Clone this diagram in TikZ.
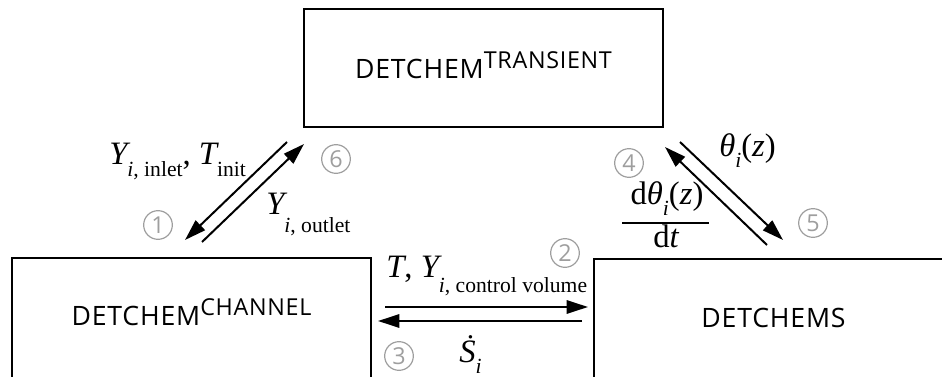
\documentclass[tikz,border=0pt]{standalone}
\usepackage{fontspec}
\setmainfont{Liberation Serif}
\newfontfamily\boxfont[LetterSpace=3]{Open Sans}
\newfontfamily\numfont{Open Sans}
\usetikzlibrary{arrows.meta}
\newcommand\msz{\fontsize{24.5}{28}\selectfont}
\newcommand\ssz{\fontsize{16.2}{20}\selectfont}
\newcommand\dn[2]{\raisebox{-#1}{\ssz #2}}
\newcommand\bsup[1]{{\fontsize{17.5}{20}\selectfont\raisebox{7.5pt}{#1}}}
\begin{document}
\begin{tikzpicture}[x=0.75pt,y=-0.75pt,
  box/.style={draw, line width=1.5pt, inner sep=0pt, minimum width=269.25pt},
  boxtxt/.style={inner sep=0pt, anchor=base, font=\boxfont\fontsize{20}{22}\selectfont},
  lbl/.style={inner sep=0pt, anchor=base west, font=\msz},
  num/.style={circle, draw=black!38, line width=0.9pt, inner sep=0pt, minimum size=21.5pt,
              text=black!38, font=\numfont\fontsize{17.5}{18}\selectfont},
  arr/.style={line width=1.5pt, -{Triangle[length=16pt,width=10pt]}}]
\useasboundingbox (0,0) rectangle (942,377);
\clip (0,0) rectangle (942,377);
% boxes
\node[box, minimum height=88.5pt] (trans) at (483.5,68) {};
\node[box, minimum height=93pt] (chan) at (191.5,320) {};
\node[box, minimum height=93pt] (dets) at (773.5,321) {};
\node[boxtxt] (transtxt) at (483.5,79) {DETCHEM\bsup{TRANSIENT}};
\node[boxtxt] (chantxt) at (191.5,326) {DETCHEM\bsup{CHANNEL}};
\node[boxtxt] (detstxt) at (773.5,328) {DETCHEMS};
% arrow end points
\coordinate (a1s) at (287,142);
\coordinate (a1e) at (185,240);
\coordinate (a6s) at (202,242);
\coordinate (a6e) at (304,144);
\coordinate (a2s) at (385,307);
\coordinate (a2e) at (588,307);
\coordinate (a3s) at (582,321);
\coordinate (a3e) at (378,321);
\coordinate (a4s) at (767,245);
\coordinate (a4e) at (665,147);
\coordinate (a5s) at (680,142);
\coordinate (a5e) at (783,240);
\draw[arr] (a1s) -- (a1e);
\draw[arr] (a6s) -- (a6e);
\draw[arr] (a2s) -- (a2e);
\draw[arr] (a3s) -- (a3e);
\draw[arr] (a4s) -- (a4e);
\draw[arr] (a5s) -- (a5e);
% labels
\node[lbl] (l1) at (109,165) {\itshape Y\dn{9pt}{i\upshape, inlet}\upshape, \itshape T\dn{9pt}{\upshape init}};
\node[lbl] (l6) at (266,215) {\itshape Y\dn{13pt}{i\upshape, outlet}};
\node[lbl] (l2) at (386,278) {\itshape T\upshape, \itshape Y\dn{11pt}{i\upshape, control volume}};
\node[lbl] (l3) at (459,363) {\itshape \.{S}\dn{8pt}{i}};
\node[lbl] (l5) at (719,157) {\itshape θ\dn{8pt}{i}\upshape(\itshape z\upshape)};
\node[lbl, anchor=base] (l4n) at (667,205) {d\itshape θ\dn{8pt}{i}\upshape(\itshape z\upshape)};
\node[lbl, anchor=base] (l4d) at (666,248) {d\itshape t};
\coordinate (fr1) at (622,223);
\coordinate (fr2) at (709,223);
\draw[line width=1.5pt] (fr1) -- (fr2);
% circled numbers
\node[num] (n1) at (158,225) {1};
\node[num] (n2) at (565,253) {2};
\node[num] (n3) at (399,356) {3};
\node[num] (n4) at (629,163) {4};
\node[num] (n5) at (813,223) {5};
\node[num] (n6) at (336,159) {6};
\end{tikzpicture}
\end{document}
